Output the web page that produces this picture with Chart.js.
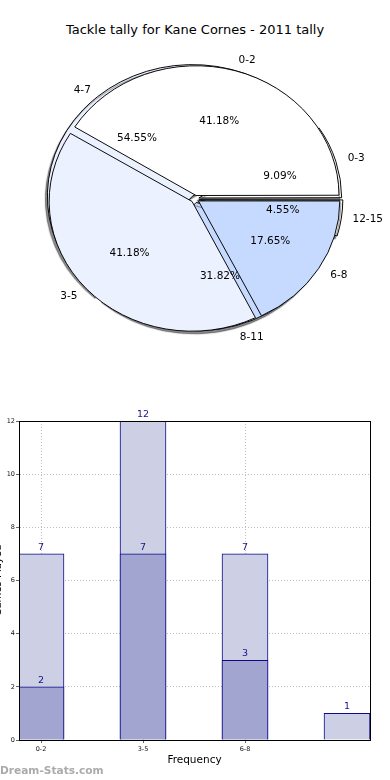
<!DOCTYPE html>
<html>
<head>
<meta charset="utf-8">
<script src="https://cdn.jsdelivr.net/npm/chart.js@4.4.1/dist/chart.umd.min.js"></script>
<style>
  body { margin: 0; background: #fff; width: 390px; height: 780px; position: relative; overflow: hidden; font-family: "DejaVu Sans", sans-serif; }
  canvas { position: absolute; left: 0; }
  #title { position: absolute; top: 22px; left: 0; width: 390px; text-align: center; font-size: 13px; line-height: 16px; color: #000; }
  #mark { position: absolute; left: 0; top: 763px; font-size: 10.6px; line-height: 14px; font-weight: bold; color: #ababab; }
</style>
</head>
<body>
<div id="title">Tackle tally for Kane Cornes - 2011 tally</div>
<canvas id="pieBack" width="390" height="398" style="top:0"></canvas>
<canvas id="pieFront" width="390" height="398" style="top:0"></canvas>
<canvas id="bars" width="390" height="380" style="top:400px"></canvas>
<div id="mark">Dream-Stats.com</div>
<script>
// outer pie (tally bands)
const tallyLabels = ['0-2', '3-5', '6-8'];
const tallyValues = [7, 7, 3];
// second pie drawn underneath
const rangeLabels = ['0-3', '4-7', '8-11', '12-15'];
const rangeValues = [2, 12, 7, 1];
// bar chart
const barTicks = ['0-2', '3-5', '6-8'];
const barTotals = [7, 12, 7, 1];
const barPart = [2, 7, 3, 0];

const pieColors = ['#ffffff', '#ebf1fe', '#c6d9fe', '#ffffff'];

Chart.defaults.font.family = '"DejaVu Sans", sans-serif';

const K = 0.908;   // matplotlib pie is an ellipse here
const R = 141;
const OFF = 16;    // chart.js moves an arc by offset / 4

const squash = {
  id: 'squash',
  beforeDatasetsDraw(chart, args, opts) {
    const ctx = chart.ctx;
    const cy = (chart.chartArea.top + chart.chartArea.bottom) / 2;
    ctx.save();
    ctx.translate(0, cy);
    ctx.scale(1, K);
    ctx.translate(0, -cy);
    if (opts.shadow) {
      ctx.shadowColor = 'rgba(40,40,40,0.55)';
      ctx.shadowOffsetX = -2;
      ctx.shadowOffsetY = 3;
      ctx.shadowBlur = 1;
    }
  },
  afterDatasetsDraw(chart) {
    chart.ctx.restore();
  }
};

const pieConfig = (labels, values, colors, shadow, extra) => ({
  type: 'pie',
  data: {
    labels: labels.slice().reverse(),
    datasets: [{
      data: values.slice().reverse(),
      backgroundColor: colors.slice(0, values.length).reverse(),
      borderColor: '#000',
      borderWidth: 1,
      borderJoinStyle: 'miter',
      offset: OFF,
      radius: R,
      rotation: 90
    }]
  },
  options: {
    responsive: false,
    animation: false,
    events: [],
    plugins: {
      legend: { display: false },
      tooltip: { enabled: false },
      squash: { shadow: shadow }
    }
  },
  plugins: [squash].concat(extra || [])
});

const drawPieText = (ctx, chart) => {
  const meta = chart.getDatasetMeta(0);
  const vals = chart.data.datasets[0].data;
  const total = vals.reduce((a, b) => a + b, 0);
  meta.data.forEach((arc, i) => {
    const mid = (arc.startAngle + arc.endAngle) / 2;
    const at = (f) => {
      const d = OFF / 4 + f * R;
      return [arc.x + Math.cos(mid) * d, arc.y + Math.sin(mid) * d * K];
    };
    const [lx, ly] = at(1.1);
    ctx.textAlign = Math.cos(mid) > 0 ? 'left' : 'right';
    ctx.fillText(chart.data.labels[i], lx, ly);
    const [px, py] = at(0.6);
    ctx.textAlign = 'center';
    ctx.fillText((vals[i] / total * 100).toFixed(2) + '%', px, py);
  });
};

const backChart = new Chart(document.getElementById('pieBack'),
  pieConfig(rangeLabels, rangeValues, pieColors, true));

const pieText = {
  id: 'pieText',
  afterDraw(chart) {
    const ctx = chart.ctx;
    ctx.save();
    ctx.font = '10.5px "DejaVu Sans"';
    ctx.fillStyle = '#000';
    ctx.textBaseline = 'middle';
    drawPieText(ctx, backChart);
    drawPieText(ctx, chart);
    ctx.restore();
  }
};

new Chart(document.getElementById('pieFront'),
  pieConfig(tallyLabels, tallyValues, pieColors, false, [pieText]));

// ---- bars ----
const frame = {
  id: 'frame',
  afterDraw(chart) {
    const { ctx, chartArea: a } = chart;
    ctx.save();
    ctx.strokeStyle = '#000';
    ctx.lineWidth = 1;
    ctx.strokeRect(a.left + 0.5, a.top + 0.5, a.right - a.left, a.bottom - a.top);
    ctx.restore();
  }
};

const barText = {
  id: 'barText',
  afterDraw(chart) {
    const ctx = chart.ctx;
    ctx.save();
    ctx.font = '9.5px "DejaVu Sans"';
    ctx.fillStyle = '#14148a';
    ctx.textAlign = 'center';
    ctx.textBaseline = 'bottom';
    chart.data.datasets.forEach((ds, d) => {
      chart.getDatasetMeta(d).data.forEach((bar, i) => {
        const v = ds.data[i].y;
        if (v > 0) ctx.fillText(v, bar.x, bar.y - 2);
      });
    });
    ctx.restore();
  }
};

const xy = (vals) => vals.map((v, i) => ({ x: i, y: v }));

const gridStyle = { color: '#bdbdbd', lineWidth: 1, tickLength: 3, tickColor: '#666', offset: false };

new Chart(document.getElementById('bars'), {
  type: 'bar',
  data: {
    datasets: [
      { data: xy(barPart), backgroundColor: '#a2a5d0', borderColor: '#0a0a8a', borderWidth: 1,
        grouped: false, barThickness: 46 },
      { data: xy(barTotals), backgroundColor: '#cdcfe5', borderColor: '#0a0a8a', borderWidth: 1,
        grouped: false, barThickness: 46 }
    ]
  },
  options: {
    responsive: false,
    animation: false,
    events: [],
    layout: { padding: { top: 21, right: 20, left: 0, bottom: 0 } },
    plugins: { legend: { display: false }, tooltip: { enabled: false } },
    scales: {
      x: {
        type: 'linear',
        offset: false,
        min: -22 / 102,
        max: 3 + 23 / 102,
        z: 1,
        afterBuildTicks: (s) => { s.ticks = barTicks.map((t, i) => ({ value: i })); },
        afterFit: (s) => { s.height = 40; },
        ticks: { callback: (v) => barTicks[v], font: { size: 6.5 }, color: '#111', padding: 2, maxRotation: 0, autoSkip: false },
        grid: gridStyle,
        border: { color: '#000', dash: [1, 2] },
        title: { display: true, text: 'Frequency', font: { size: 10.5 }, color: '#000', padding: { top: 0, bottom: 13 } }
      },
      y: {
        min: 0,
        max: 12,
        z: 1,
        afterFit: (s) => { s.width = 19; },
        ticks: { stepSize: 2, font: { size: 6.5 }, color: '#111', padding: 1 },
        grid: gridStyle,
        border: { color: '#000', dash: [1, 2] },
        title: { display: true, text: 'Games Played', font: { size: 10 }, color: '#000', padding: { top: -8, bottom: 0 } }
      }
    }
  },
  plugins: [frame, barText]
});
</script>
</body>
</html>
